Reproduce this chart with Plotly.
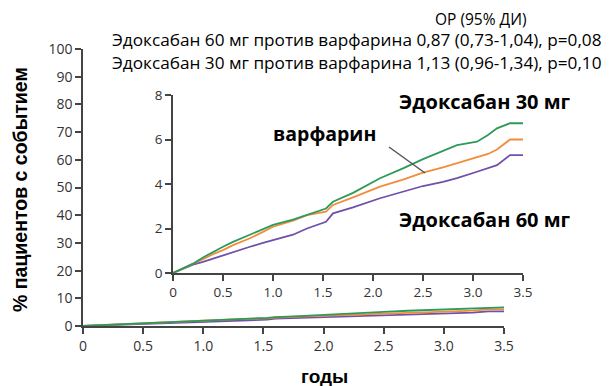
import plotly.graph_objects as go

years = [0, 0.1, 0.2, 0.3, 0.4, 0.5, 0.6, 0.77, 0.9, 1.0, 1.2, 1.34, 1.53, 1.6, 1.8,
         2.07, 2.3, 2.5, 2.7, 2.84, 3.04, 3.15, 3.24, 3.37, 3.5]
edox30 = [0, 0.2, 0.42, 0.7, 0.95, 1.18, 1.4, 1.71, 1.98, 2.16, 2.4, 2.6, 2.9, 3.2, 3.6,
          4.26, 4.7, 5.12, 5.5, 5.75, 5.9, 6.2, 6.5, 6.73, 6.73]
warfarin = [0, 0.2, 0.4, 0.62, 0.85, 1.03, 1.25, 1.56, 1.85, 2.08, 2.35, 2.6, 2.76, 3.06, 3.4,
            3.88, 4.2, 4.51, 4.75, 4.93, 5.2, 5.35, 5.55, 6.0, 6.0]
edox60 = [0, 0.18, 0.38, 0.5, 0.65, 0.81, 0.95, 1.18, 1.35, 1.48, 1.72, 2.0, 2.3, 2.68, 2.95,
          3.36, 3.65, 3.91, 4.1, 4.26, 4.55, 4.7, 4.85, 5.3, 5.3]

x_ticks = [0, 0.5, 1.0, 1.5, 2.0, 2.5, 3.0, 3.5]
x_ticktext = ["0", "0.5", "1.0", "1.5", "2.0", "2.5", "3.0", "3.5"]
main_y_ticks = [0, 10, 20, 30, 40, 50, 60, 70, 80, 90, 100]
inset_y_ticks = [0, 2, 4, 6, 8]

header = "ОР (95% ДИ)"
row60 = "Эдоксабан 60 мг против варфарина 0,87 (0,73-1,04), p=0,08"
row30 = "Эдоксабан 30 мг против варфарина 1,13 (0,96-1,34), p=0,10"

GREEN = "#2e9a5a"
ORANGE = "#f28c3c"
PURPLE = "#7050a8"

series = [("Эдоксабан 60 мг", edox60, PURPLE),
          ("варфарин", warfarin, ORANGE),
          ("Эдоксабан 30 мг", edox30, GREEN)]

# page has an 8px body margin: figure is offset by (8, 8) in the window
OFF = 8
W, H = 614 - OFF, 386 - OFF


def px(X):
    return (X - OFF) / W


def py(Y):
    return 1 - (Y - OFF) / H


fig = go.Figure()
for name, vals, col in series:
    fig.add_trace(go.Scatter(x=years, y=vals, mode="lines", name=name,
                             line=dict(color=col, width=1.8), xaxis="x", yaxis="y",
                             showlegend=False))
for name, vals, col in series:
    fig.add_trace(go.Scatter(x=years, y=vals, mode="lines", name=name,
                             line=dict(color=col, width=1.8), xaxis="x2", yaxis="y2",
                             showlegend=False))


def ax(size):
    return dict(showline=True, linecolor="#444444", linewidth=1.5, ticks="outside",
                ticklen=6, tickcolor="#444444", tickwidth=1.5, showgrid=False,
                zeroline=False,
                tickfont=dict(family="Open Sans, Noto Sans, sans-serif", size=size,
                              color="#333333"))


fig.update_layout(
    width=W, height=H,
    margin=dict(l=0, r=0, t=0, b=0, autoexpand=False),
    paper_bgcolor="white", plot_bgcolor="rgba(0,0,0,0)",
    xaxis=dict(domain=[px(83), px(504)], range=[0, 3.5], tickvals=x_ticks,
               ticktext=x_ticktext, anchor="y", **ax(14)),
    yaxis=dict(domain=[py(326), py(49)], range=[0, 100], tickvals=main_y_ticks,
               anchor="x", **ax(14)),
    xaxis2=dict(domain=[px(173), px(523)], range=[0, 3.5], tickvals=x_ticks,
                ticktext=x_ticktext, anchor="y2", **ax(13.5)),
    yaxis2=dict(domain=[py(273), py(95)], range=[0, 8], tickvals=inset_y_ticks,
                anchor="x2", **ax(13.5)),
    showlegend=False,
)

OF = dict(family="Open Sans, Noto Sans, sans-serif", color="black")
AF = dict(family="Liberation Sans, Arial, sans-serif", color="black")
anns = [
    dict(text=header, x=px(481), y=py(18.5), font=dict(size=15.5, **OF)),
    dict(text=row60, x=px(357), y=py(39.5), font=dict(size=17.2, **OF)),
    dict(text=row30, x=px(357), y=py(62.5), font=dict(size=17.2, **OF)),
    dict(text="<b>Эдоксабан 30 мг</b>", x=px(485), y=py(101), font=dict(size=20, **OF)),
    dict(text="<b>варфарин</b>", x=px(324), y=py(134), font=dict(size=19.5, **OF)),
    dict(text="<b>Эдоксабан 60 мг</b>", x=px(485), y=py(219), font=dict(size=20, **OF)),
    dict(text="<b>годы</b>", x=px(325), y=py(376), font=dict(size=19, **AF)),
    dict(text="<b>% пациентов с событием</b>", x=px(20), y=py(190), textangle=-90,
         font=dict(size=19.5, **AF)),
]
for a in anns:
    fig.add_annotation(xref="paper", yref="paper", showarrow=False, borderpad=0,
                       xanchor="center", yanchor="middle", **a)

fig.add_shape(type="line", xref="paper", yref="paper",
              x0=px(389), y0=py(147), x1=px(425), y1=py(173),
              line=dict(color="#555555", width=1.5))

fig.write_html("out.html")
